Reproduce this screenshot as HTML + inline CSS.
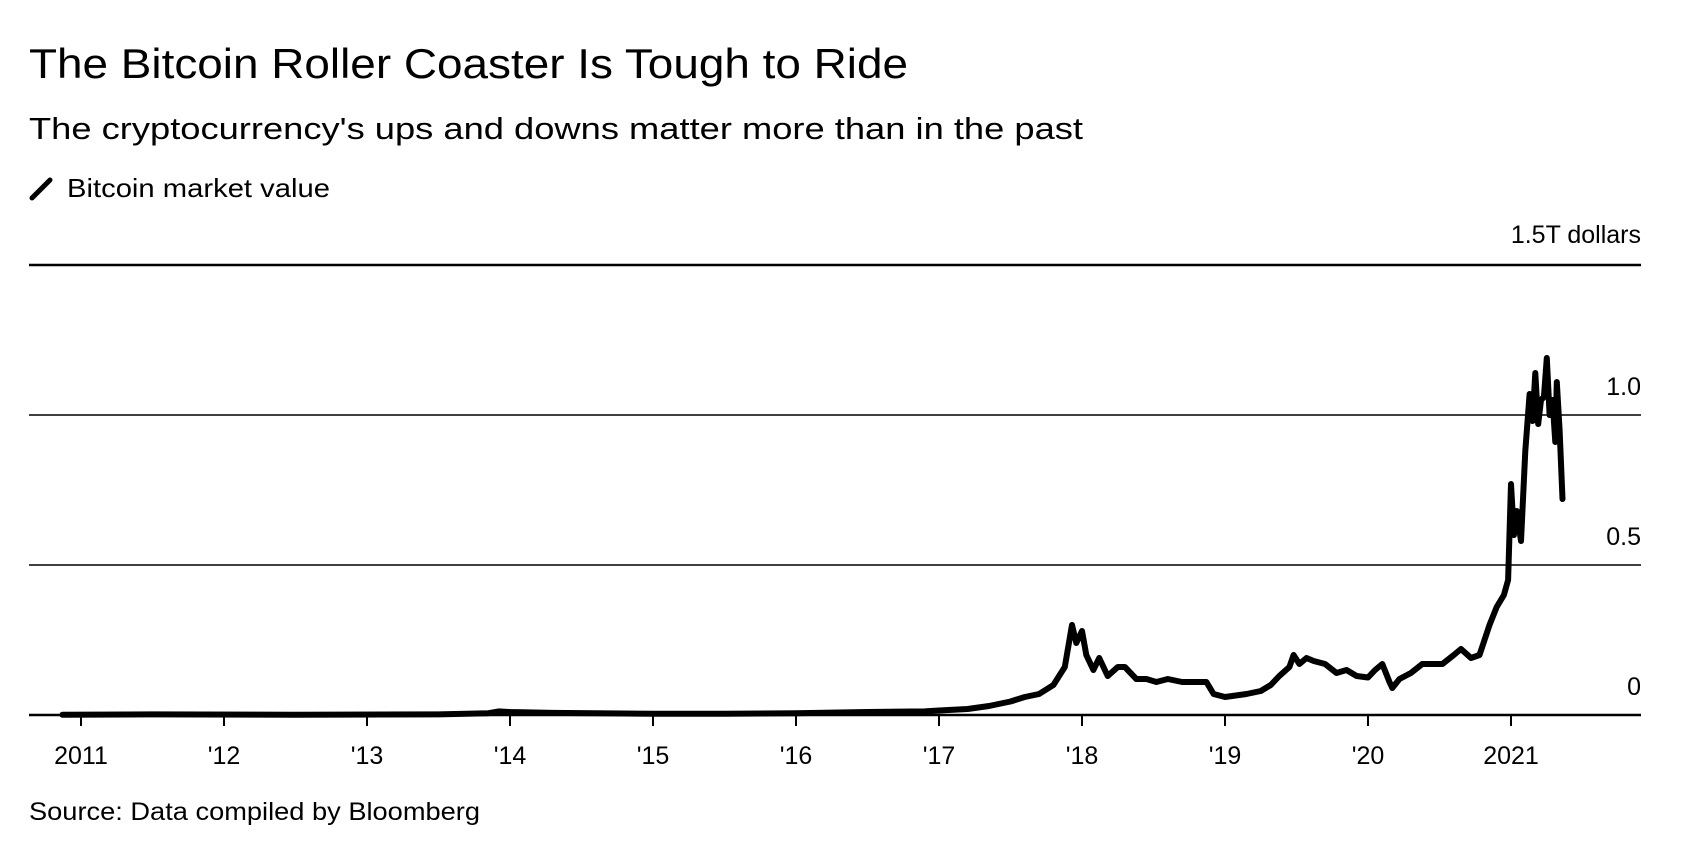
<!DOCTYPE html>
<html><head><meta charset="utf-8"><style>
html,body{margin:0;padding:0;background:#fff;}
svg{display:block;font-family:"Liberation Sans",Arial,sans-serif;}
</style></head><body>
<svg id="chart" width="1696" height="850" viewBox="0 0 1696 850">
<text x="29" y="78" font-size="42" textLength="879" lengthAdjust="spacingAndGlyphs" fill="#000">The Bitcoin Roller Coaster Is Tough to Ride</text>
<text x="29" y="139" font-size="31" textLength="1054" lengthAdjust="spacingAndGlyphs" fill="#000">The cryptocurrency's ups and downs matter more than in the past</text>
<line x1="32" y1="198" x2="50" y2="180" stroke="#000" stroke-width="5" stroke-linecap="round"/>
<text x="67" y="197" font-size="26" textLength="263" lengthAdjust="spacingAndGlyphs" fill="#000">Bitcoin market value</text>
<g id="grid"></g>
<g id="xaxis"></g>
<path id="line" fill="none" stroke="#000" stroke-width="6" stroke-linejoin="round" stroke-linecap="round"/>
<text x="29" y="820" font-size="25" textLength="451" lengthAdjust="spacingAndGlyphs" fill="#000">Source: Data compiled by Bloomberg</text>
</svg>
<script>
const yTicks=[0,0.5,1.0,1.5];
const yTickLabels=["0","0.5","1.0","1.5T dollars"];
const xTicks=[2011,2012,2013,2014,2015,2016,2017,2018,2019,2020,2021];
const xTickLabels=["2011","'12","'13","'14","'15","'16","'17","'18","'19","'20","2021"];
const dates=[2010.87,2011.5,2012.5,2013.5,2013.85,2013.92,2014.0,2014.3,2014.6,2015.0,2015.5,2016.0,2016.5,2016.9,2017.0,2017.2,2017.35,2017.5,2017.6,2017.7,2017.8,2017.88,2017.93,2017.96,2018.0,2018.03,2018.08,2018.12,2018.18,2018.25,2018.3,2018.38,2018.45,2018.52,2018.6,2018.7,2018.8,2018.87,2018.92,2019.0,2019.15,2019.25,2019.32,2019.38,2019.45,2019.48,2019.52,2019.57,2019.62,2019.7,2019.78,2019.85,2019.92,2020.0,2020.05,2020.1,2020.15,2020.17,2020.22,2020.3,2020.38,2020.45,2020.52,2020.6,2020.65,2020.72,2020.78,2020.85,2020.9,2020.95,2020.98,2021.0,2021.02,2021.04,2021.07,2021.1,2021.13,2021.15,2021.17,2021.19,2021.21,2021.23,2021.25,2021.27,2021.29,2021.31,2021.32,2021.34,2021.36];
const valuesT=[0.001,0.002,0.001,0.002,0.006,0.012,0.01,0.007,0.006,0.004,0.004,0.006,0.01,0.012,0.015,0.02,0.03,0.045,0.06,0.07,0.1,0.16,0.3,0.24,0.28,0.2,0.15,0.19,0.13,0.16,0.16,0.12,0.12,0.11,0.12,0.11,0.11,0.11,0.07,0.06,0.07,0.08,0.1,0.13,0.16,0.2,0.17,0.19,0.18,0.17,0.14,0.15,0.13,0.125,0.15,0.17,0.11,0.09,0.12,0.14,0.17,0.17,0.17,0.2,0.22,0.19,0.2,0.3,0.36,0.4,0.45,0.77,0.6,0.68,0.58,0.88,1.07,0.98,1.14,0.97,1.05,1.06,1.19,1.0,1.05,0.91,1.11,0.95,0.72];
const x0=29,x1=1641,yZero=715,pxPerT=300,xBase=81,pxPerYear=143;
const xs=d=>xBase+(d-2011)*pxPerYear;
const ys=v=>yZero-v*pxPerT;
const NS="http://www.w3.org/2000/svg";
const grid=document.getElementById('grid'),xa=document.getElementById('xaxis');
yTicks.forEach((t,i)=>{
  const l=document.createElementNS(NS,'line');
  
  
  l.setAttribute('x1',x0);l.setAttribute('x2',x1);l.setAttribute('y1',ys(t));l.setAttribute('y2',ys(t));
  l.setAttribute('stroke','#000');l.setAttribute('stroke-width',(t===0||t===1.5)?2.5:1.5);
  grid.appendChild(l);
  const tx=document.createElementNS(NS,'text');
  
  
  tx.setAttribute('x',x1);tx.setAttribute('y',ys(t)-(t===1.5?22:20));
  tx.setAttribute('text-anchor','end');tx.setAttribute('font-size','25');
  tx.textContent=yTickLabels[i];
  grid.appendChild(tx);
});
xTicks.forEach((t,i)=>{
  const l=document.createElementNS(NS,'line');
  
  
  l.setAttribute('x1',xs(t));l.setAttribute('x2',xs(t));l.setAttribute('y1',yZero);l.setAttribute('y2',yZero+11);
  l.setAttribute('stroke','#000');l.setAttribute('stroke-width','2');
  xa.appendChild(l);
  const tx=document.createElementNS(NS,'text');
  
  
  tx.setAttribute('x',xs(t));tx.setAttribute('y',764);
  tx.setAttribute('text-anchor','middle');tx.setAttribute('font-size','25');
  tx.textContent=xTickLabels[i];
  xa.appendChild(tx);
});
document.getElementById('line').setAttribute('d',dates.map((d,i)=>(i?'L':'M')+xs(d).toFixed(1)+','+ys(valuesT[i]).toFixed(1)).join(''));
</script>
</body></html>
